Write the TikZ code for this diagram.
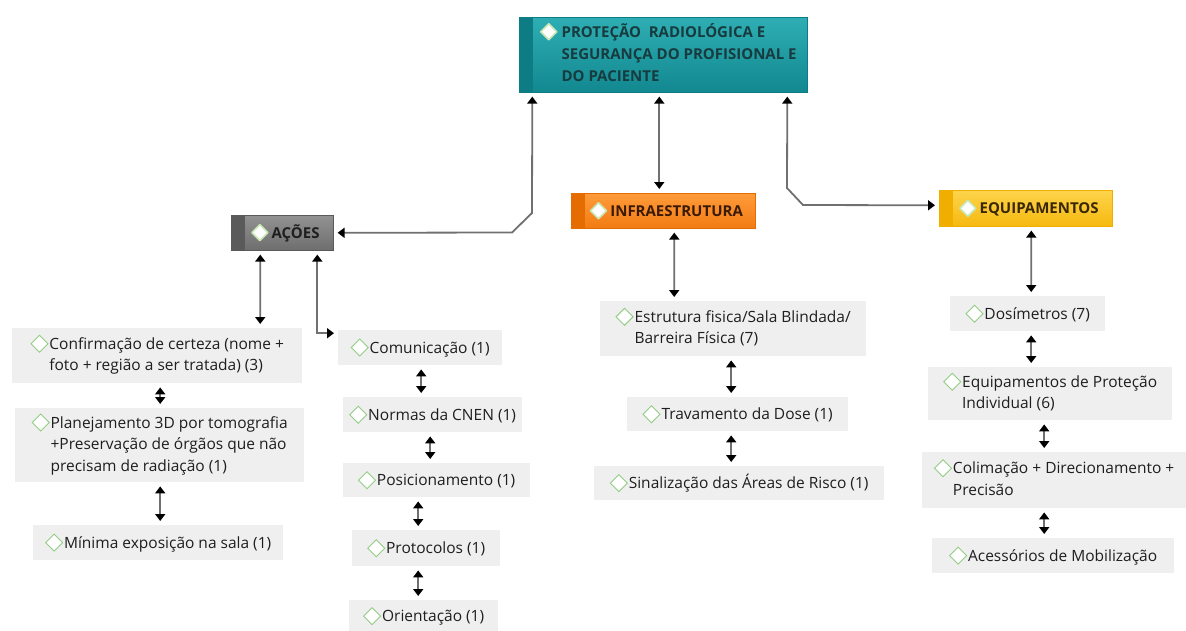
\documentclass[tikz,border=0pt]{standalone}
\usepackage{fontspec}
\setmainfont{Open Sans}
\usetikzlibrary{arrows.meta,shadings}
\definecolor{lgray}{HTML}{EFEFEF}
\definecolor{tdark}{HTML}{1E1E1E}
\definecolor{dgreen}{HTML}{93CC84}
\definecolor{hgreen}{HTML}{C9E7B4}
\definecolor{tealtop}{HTML}{2EAEB4}
\definecolor{tealbot}{HTML}{12888F}
\definecolor{tealstr}{HTML}{0E7C84}
\definecolor{tealtxt}{HTML}{173B3F}
\definecolor{graytop}{HTML}{929292}
\definecolor{graybot}{HTML}{6E6E6E}
\definecolor{graystr}{HTML}{5A5A5A}
\definecolor{orgtop}{HTML}{FF9B3B}
\definecolor{orgbot}{HTML}{F27B12}
\definecolor{orgstr}{HTML}{E56C00}
\definecolor{orgtxt}{HTML}{3A1A02}
\definecolor{yeltop}{HTML}{FDD44C}
\definecolor{yelbot}{HTML}{F6B90F}
\definecolor{yelstr}{HTML}{EFAE00}
\definecolor{yeltxt}{HTML}{3A2704}
\definecolor{linec}{HTML}{707070}
\newcommand\dmd{\tikz[baseline=-5.5pt]\draw[draw=dgreen,fill=white,line width=0.9pt,line join=miter] (0pt,8.5pt)--(8.5pt,0pt)--(0pt,-8.5pt)--(-8.5pt,0pt)--cycle;}
\newcommand\hdmd{\tikz[baseline=-5.5pt]\draw[draw=hgreen,fill=white,line width=1.6pt,line join=round] (0pt,8pt)--(8pt,0pt)--(0pt,-8pt)--(-8pt,0pt)--cycle;}
\newcommand\lines[1]{\begin{tabular}[t]{@{}l@{}}#1\end{tabular}}
\tikzset{
  bodyfont/.style={font=\fontsize{15.5}{21.5}\selectfont},
  gbox/.style={fill=lgray, inner sep=0pt, anchor=north west, text=tdark, bodyfont},
  hbox/.style n args={4}{top color=#1, bottom color=#2, draw=#3, line width=0.6pt, inner sep=0pt,
     anchor=north west, text=#4, font=\fontsize{15}{22}\bfseries\selectfont,
     path picture={\fill[#3] (path picture bounding box.north west) rectangle ([xshift=14pt]path picture bounding box.south west);}},
  dbl/.style={draw=linec, line width=1.8pt,
     {Triangle[length=7pt,width=10pt,color=black]}-{Triangle[length=7pt,width=10pt,color=black]},
     shorten <=4pt, shorten >=4pt}
}
\begin{document}
\begin{tikzpicture}[x=1pt,y=-1pt]
\useasboundingbox (0,0) rectangle (1186,630);
% headers
\node[hbox={tealtop}{tealbot}{tealstr}{tealtxt}, minimum width=288pt, minimum height=75pt] (top) at (519,17)
  {\hspace*{10pt}\hdmd\hspace{4pt}\lines{PROTEÇÃO\ \ RADIOLÓGICA E\\SEGURANÇA DO PROFISIONAL E\\DO PACIENTE}};
\node[hbox={graytop}{graybot}{graystr}{tdark}, minimum width=102pt, minimum height=35pt] (acoes) at (231,215)
  {\hspace*{6pt}\hdmd\hspace{3pt}AÇÕES};
\node[hbox={orgtop}{orgbot}{orgstr}{orgtxt}, minimum width=184pt, minimum height=35pt] (infra) at (571,193)
  {\hspace*{6pt}\hdmd\hspace{3pt}INFRAESTRUTURA};
\node[hbox={yeltop}{yelbot}{yelstr}{yeltxt}, minimum width=173pt, minimum height=36pt] (equip) at (939,190)
  {\hspace*{6pt}\hdmd\hspace{3pt}EQUIPAMENTOS};
% ações left column
\node[gbox, minimum width=290pt, minimum height=55pt] (conf) at (12,328)
  {\dmd\hspace{1pt}\lines{Confirmação de certeza (nome +\\foto + região a ser tratada) (3)}};
\node[gbox, minimum width=289pt, minimum height=74pt] (plan) at (15,408)
  {\dmd\hspace{1pt}\lines{Planejamento 3D por tomografia\\+Preservação de órgãos que não\\precisam de radiação (1)}};
\node[gbox, minimum width=250pt, minimum height=35pt] (minima) at (33,525)
  {\dmd\hspace{1pt}Mínima exposição na sala (1)};
% ações right column
\node[gbox, minimum width=164pt, minimum height=35pt] (comun) at (338,330)
  {\dmd\hspace{1pt}Comunicação (1)};
\node[gbox, minimum width=179pt, minimum height=35pt] (normas) at (343,397)
  {\dmd\hspace{1pt}Normas da CNEN (1)};
\node[gbox, minimum width=187pt, minimum height=34pt] (posic) at (343,463)
  {\dmd\hspace{1pt}Posicionamento (1)};
\node[gbox, minimum width=148pt, minimum height=36pt] (protoc) at (352,530)
  {\dmd\hspace{1pt}Protocolos (1)};
\node[gbox, minimum width=149pt, minimum height=32pt] (orient) at (349,600)
  {\dmd\hspace{1pt}Orientação (1)};
% infraestrutura
\node[gbox, minimum width=266pt, minimum height=55pt] (estr) at (600,301)
  {\dmd\hspace{1pt}\lines{Estrutura fisica/Sala Blindada/\\Barreira Física (7)}};
\node[gbox, minimum width=221pt, minimum height=34pt] (trav) at (627,397)
  {\dmd\hspace{1pt}Travamento da Dose (1)};
\node[gbox, minimum width=290pt, minimum height=34pt] (sinal) at (594,466)
  {\dmd\hspace{1pt}Sinalização das Áreas de Risco (1)};
% equipamentos
\node[gbox, minimum width=155pt, minimum height=35pt] (dosim) at (950,296)
  {\dmd\hspace{1pt}Dosímetros (7)};
\node[gbox, minimum width=244pt, minimum height=53pt] (epi) at (928,367)
  {\dmd\hspace{1pt}\lines{Equipamentos de Proteção\\Individual (6)}};
\node[gbox, minimum width=264pt, minimum height=56pt] (colim) at (922,452)
  {\dmd\hspace{1pt}\lines{Colimação + Direcionamento +\\Precisão}};
\node[gbox, minimum width=242pt, minimum height=35pt] (acess) at (932,538)
  {\dmd\hspace{1pt}Acessórios de Mobilização};
% connectors from top
\draw[dbl] ([xshift=-131pt]top.south) -- (532,213) -- (512,232.5) -- (acoes.east);
\draw[dbl] ([xshift=-4pt]top.south) -- ([xshift=-4pt]infra.north);
\draw[dbl] ([xshift=124pt]top.south) -- (787,188) -- (803,205) -- ([yshift=3pt]equip.west);
% ações
\draw[dbl] ([xshift=-22pt]acoes.south) -- ([xshift=103pt]conf.north);
\draw[dbl] ([xshift=35pt]acoes.south) |- ([yshift=14.5pt]comun.west);
\draw[dbl] ([xshift=3pt]conf.south) -- ([xshift=0.5pt]plan.north);
\draw[dbl] ([xshift=0.5pt]plan.south) -- ([xshift=2pt]minima.north);
\draw[dbl] ([xshift=1pt]comun.south) -- ([xshift=-11.5pt]normas.north);
\draw[dbl] ([xshift=-2.5pt]normas.south) -- ([xshift=-6.5pt]posic.north);
\draw[dbl] ([xshift=-18.5pt]posic.south) -- ([xshift=-8pt]protoc.north);
\draw[dbl] ([xshift=-8pt]protoc.south) -- ([xshift=-5.5pt]orient.north);
% infraestrutura
\draw[dbl] ([xshift=11pt]infra.south) -- ([xshift=-59pt]estr.north);
\draw[dbl] ([xshift=-2pt]estr.south) -- ([xshift=-6.5pt]trav.north);
\draw[dbl] ([xshift=-6.5pt]trav.south) -- ([xshift=-8pt]sinal.north);
% equipamentos
\draw[dbl] ([xshift=5.5pt]equip.south) -- ([xshift=3.5pt]dosim.north);
\draw[dbl] ([xshift=3.5pt]dosim.south) -- ([xshift=-19pt]epi.north);
\draw[dbl] ([xshift=-6pt]epi.south) -- ([xshift=-10pt]colim.north);
\draw[dbl] ([xshift=-10pt]colim.south) -- ([xshift=-9pt]acess.north);
\end{tikzpicture}
\end{document}
